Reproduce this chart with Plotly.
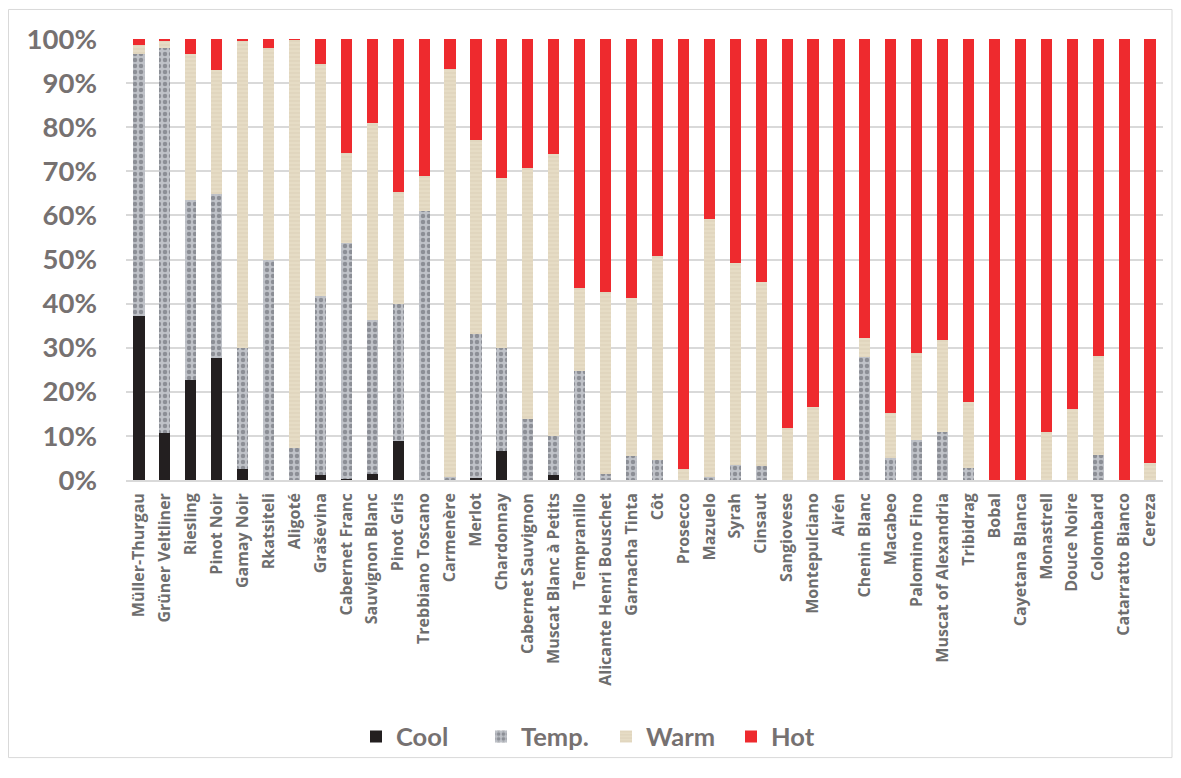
import plotly.graph_objects as go

varieties = ["Müller-Thurgau", "Grüner Veltliner", "Riesling", "Pinot Noir", "Gamay Noir",
             "Rkatsiteli", "Aligoté", "Graševina", "Cabernet Franc", "Sauvignon Blanc",
             "Pinot Gris", "Trebbiano Toscano", "Carmenère", "Merlot", "Chardonnay",
             "Cabernet Sauvignon", "Muscat Blanc à Petits", "Tempranillo", "Alicante Henri Bouschet",
             "Garnacha Tinta", "Côt", "Prosecco", "Mazuelo", "Syrah", "Cinsaut", "Sangiovese",
             "Montepulciano", "Airén", "Chenin Blanc", "Macabeo", "Palomino Fino",
             "Muscat of Alexandria", "Tribidrag", "Bobal", "Cayetana Blanca", "Monastrell",
             "Douce Noire", "Colombard", "Catarratto Bianco", "Cereza"]

cool = [37.2, 10.6, 22.7, 27.7, 2.4, 0.0, 0.0, 1.1, 0.2, 1.3,
        8.9, 0.0, 0.0, 0.4, 6.5, 0.0, 1.1, 0.0, 0.0, 0.0,
        0.0, 0.0, 0.0, 0.0, 0.0, 0.0, 0.0, 0.0, 0.0, 0.0,
        0.0, 0.0, 0.0, 0.0, 0.0, 0.0, 0.0, 0.0, 0.0, 0.0]
temp = [59.4, 87.3, 40.8, 37.1, 27.5, 49.9, 7.3, 40.6, 53.6, 35.0,
        31.0, 60.9, 0.6, 32.8, 23.4, 13.8, 8.9, 24.7, 1.3, 5.5,
        4.6, 0.0, 0.6, 3.5, 3.1, 0.0, 0.0, 0.0, 27.8, 5.1,
        9.1, 10.9, 2.8, 0.0, 0.0, 0.0, 0.0, 5.7, 0.0, 0.0]
warm = [2.1, 1.7, 33.0, 28.1, 69.7, 48.1, 92.5, 52.6, 20.3, 44.7,
        25.3, 8.1, 92.7, 43.8, 38.6, 56.9, 63.9, 18.8, 41.3, 35.8,
        46.3, 2.5, 58.5, 45.6, 41.9, 11.8, 16.5, 0.0, 4.5, 10.1,
        19.6, 20.8, 14.8, 0.0, 0.0, 10.9, 16.2, 22.4, 0.0, 3.9]
hot = [1.3, 0.4, 3.5, 7.1, 0.4, 2.0, 0.2, 5.7, 25.9, 19.0,
       34.8, 31.0, 6.7, 23.0, 31.5, 29.3, 26.1, 56.5, 57.4, 58.7,
       49.1, 97.5, 40.9, 50.9, 55.0, 88.2, 83.5, 100.0, 67.7, 84.8,
       71.3, 68.3, 82.4, 100.0, 100.0, 89.1, 83.8, 71.9, 100.0, 96.1]

y_ticks = [0, 10, 20, 30, 40, 50, 60, 70, 80, 90, 100]
y_tick_labels = [f"{t}%" for t in y_ticks]

# page body adds an 8px offset; figure sized to fit the window
W, H = 1165, 762
ML, MR, MT, MB = 118, 10, 31, 283
pw = W - ML - MR
ph = H - MT - MB

fig = go.Figure()
fig.add_trace(go.Bar(name="Cool", x=varieties, y=cool, marker=dict(color="#231f20", line_width=0)))
fig.add_trace(go.Bar(name="Temp.", x=varieties, y=temp,
                     marker=dict(color="#b3b6bd", line_width=0,
                                 pattern=dict(shape=".", fgcolor="#5a5c63", bgcolor="#bfc2c8",
                                              size=6, solidity=0.45))))
fig.add_trace(go.Bar(name="Warm", x=varieties, y=warm,
                     marker=dict(color="#e4d9c1", line_width=0,
                                 pattern=dict(shape="-", fgcolor="#cdbfa2", bgcolor="#e6dcc5",
                                              size=4, solidity=0.2))))
fig.add_trace(go.Bar(name="Hot", x=varieties, y=hot, marker=dict(color="#ee2a2e", line_width=0)))

fig.update_layout(
    width=W, height=H,
    barmode="stack", bargap=0.57,
    plot_bgcolor="white", paper_bgcolor="white",
    margin=dict(l=ML, r=MR, t=MT, b=MB),
    xaxis=dict(tickangle=-90, tickfont=dict(family="Open Sans", size=16, color="#6e6e6e", weight=700),
               showgrid=False, showline=True, linecolor="#d9d9d9", linewidth=1.5, ticks="",
               ticklabelstandoff=5),
    yaxis=dict(range=[0, 100], tickvals=y_ticks, ticktext=y_tick_labels,
               tickfont=dict(family="Lato", size=27.5, color="#767171", weight="bold"),
               showgrid=True, gridcolor="#d9d9d9", gridwidth=1.5, zeroline=False, ticks="",
               ticklabelstandoff=28),
    legend=dict(orientation="h", x=(606 - 8 - ML) / pw, xanchor="center",
                y=-(740 - (H - MB)) / ph, yanchor="middle", bgcolor="rgba(0,0,0,0)",
                font=dict(family="Lato", size=25.5, color="#767171", weight="bold"),
                traceorder="normal", entrywidth=80, entrywidthmode="pixels"),
    showlegend=True,
    shapes=[dict(type="rect", xref="paper", yref="paper",
                 x0=(0.5 - ML) / pw, x1=(W - 1 - ML) / pw,
                 y0=-(MB - 1) / ph, y1=(MT - 1 + ph) / ph,
                 line=dict(color="#d9d9d9", width=1), layer="below")],
)

fig.write_html("out.html")
